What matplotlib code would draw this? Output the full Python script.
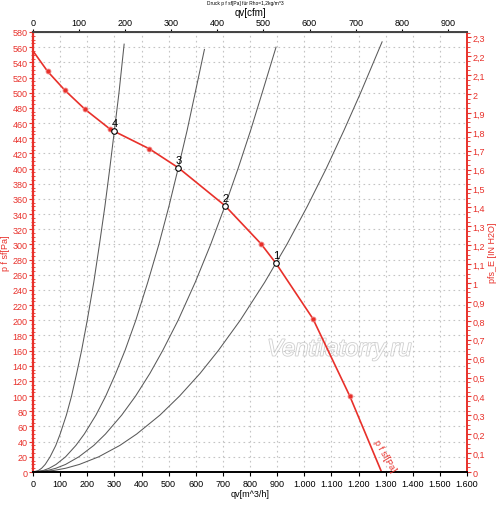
import matplotlib
matplotlib.use("Agg")
import matplotlib.pyplot as plt
import matplotlib.patheffects as pe
from matplotlib.ticker import MultipleLocator, FixedLocator, FuncFormatter

plt.rcParams["font.family"] = ["Liberation Sans", "DejaVu Sans"]

# fan curve (q in m3/h, p in Pa)
fan_q = [0, 54, 118, 192, 284, 300, 429, 536, 708, 840, 896, 1032, 1168, 1285]
fan_p = [555, 528, 503, 478, 452, 449, 426, 401, 351, 301, 275, 202, 100, 0]
fan_marked = [1, 2, 3, 4, 6, 9, 11, 12]

# system curves: flow at each pressure level, plus the top end of each line
sys_p = [0, 2, 5, 10, 20, 35, 50, 75, 100, 130, 160, 200, 250, 300, 350, 400, 450, 500]
sys_q = {
    "1": [0, 76, 121, 171, 242, 320, 382, 468, 540, 616, 683, 764, 854, 936, 1011, 1081, 1146, 1208],
    "2": [0, 53, 85, 120, 169, 224, 267, 327, 378, 431, 478, 535, 598, 655, 707, 756, 802, 845],
    "3": [0, 38, 60, 85, 120, 158, 189, 232, 268, 305, 339, 379, 423, 464, 501, 535, 568, 598],
    "4": [0, 20, 32, 45, 63, 84, 100, 123, 142, 161, 179, 200, 224, 245, 265, 283, 300, 317],
}
sys_top_q = {"1": 1287, "2": 896, "3": 632, "4": 336}
sys_top_p = {"1": 567, "2": 560, "3": 557, "4": 564}

# operating points
op_names = ["1", "2", "3", "4"]
op_q = [896, 708, 536, 300]
op_p = [275, 351, 401, 449]

cfm_ticks = [0, 100, 200, 300, 400, 500, 600, 700, 800, 900]

RED = "#e8302a"
GRAY = "#5a5a5a"
FS = 6.5

fig = plt.figure(figsize=(5, 5.06), dpi=100)
ax = fig.add_axes([0.066, 0.0652, 0.868, 0.8696])

ax.set_xlim(0, 1600)
ax.set_ylim(0, 580)

ax.text(1130, 162, "Ventilatorry.ru", fontsize=17, color="white",
        style="italic", ha="center", va="center", zorder=0.5,
        path_effects=[pe.withStroke(linewidth=1.2, foreground="#cfcfcf")])

for key, qs in sys_q.items():
    ax.plot(qs + [sys_top_q[key]], sys_p + [sys_top_p[key]], color=GRAY, lw=0.75)

ax.plot(fan_q, fan_p, color=RED, lw=1.2)
ax.plot([fan_q[i] for i in fan_marked], [fan_p[i] for i in fan_marked], "o",
        ms=3.5, color=RED, mec="#f08080", mew=0.6)

ax.plot(op_q, op_p, "o", ms=4, mfc="white", mec="black", mew=0.8)
for n, q, p in zip(op_names, op_q, op_p):
    ax.text(q + 2, p + 4, n, fontsize=8, ha="center", va="bottom")

ax.text(1296, 22, "p f sf[Pa]", color=RED, fontsize=FS, rotation=-60,
        ha="center", va="center")

# grid
ax.xaxis.set_major_locator(MultipleLocator(100))
ax.yaxis.set_major_locator(MultipleLocator(20))
ax.yaxis.set_minor_locator(MultipleLocator(5))
ax.grid(True, which="major", color="#c4c4c4", ls=(0, (1.5, 3)), lw=0.8)


def thousands(v, pos):
    return f"{int(round(v)):,}".replace(",", ".")


ax.xaxis.set_major_formatter(FuncFormatter(thousands))
ax.tick_params(axis="x", labelsize=FS, length=3, pad=2, color="black")
ax.tick_params(axis="y", which="both", labelsize=FS, colors=RED, pad=1)
ax.tick_params(axis="y", which="major", length=3)
ax.tick_params(axis="y", which="minor", length=3, direction="inout")
ax.set_xlabel("qv[m^3/h]", fontsize=FS, labelpad=1)
ax.set_ylabel("p f sf[Pa]", fontsize=FS, color=RED, labelpad=2)

ax.spines["left"].set_color(RED)
ax.spines["left"].set_linewidth(1.6)
ax.spines["right"].set_color(RED)
ax.spines["right"].set_linewidth(1.2)
ax.spines["bottom"].set_linewidth(1.4)
ax.spines["top"].set_linewidth(1.4)
ax.spines["top"].set_color("#444444")

# top axis in cfm
top = ax.secondary_xaxis("top", functions=(lambda q: q / 1.699, lambda c: c * 1.699))
top.xaxis.set_major_locator(FixedLocator(cfm_ticks))
top.tick_params(labelsize=FS, length=2, pad=1.5)
top.set_xlabel("qv[cfm]", fontsize=FS + 0.5, labelpad=2)

# right axis in inch water
right = ax.secondary_yaxis("right", functions=(lambda p: p / 249.1, lambda w: w * 249.1))
right.yaxis.set_major_locator(MultipleLocator(0.1))
right.yaxis.set_minor_locator(MultipleLocator(0.025))


def comma(v, pos):
    s = f"{v:.1f}".replace(".", ",")
    return s[:-2] if s.endswith(",0") else s


right.yaxis.set_major_formatter(FuncFormatter(comma))
right.tick_params(which="both", labelsize=FS, colors=RED, pad=1)
right.tick_params(which="major", length=3)
right.tick_params(which="minor", length=2)
right.spines["right"].set_color(RED)
right.spines["right"].set_linewidth(1.2)
right.set_ylabel("pfs_E [IN H2O]", fontsize=FS, color=RED, labelpad=2)

fig.text(0.49, 0.994, "Druck p f sf[Pa] für Rho=1,2kg/m^3", fontsize=3.5,
         ha="center", va="center")

fig.savefig("out.png", dpi=100)
